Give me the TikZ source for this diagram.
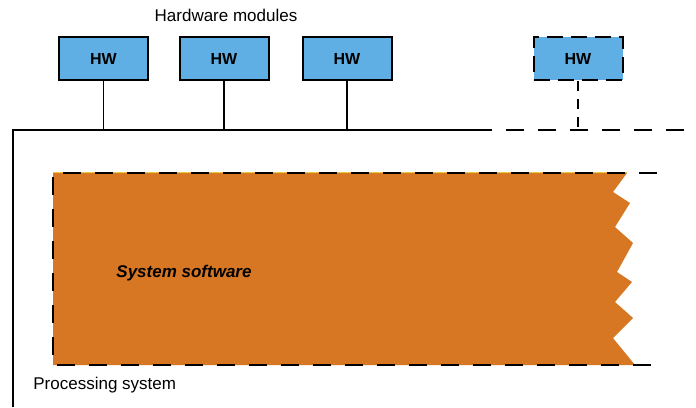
\documentclass[tikz,border=0pt]{standalone}
\usepackage{fontspec}
\setmainfont{Liberation Sans}
\definecolor{hwblue}{RGB}{95,175,228}
\definecolor{sworange}{RGB}{215,118,35}
\definecolor{swedge}{RGB}{240,200,60}
\begin{document}
\begin{tikzpicture}
	[
	x = {(0.5pt, 0pt)},
	y = {(0pt, -0.5pt)},
	hwbox/.style = {draw = black, fill = hwblue, line width = 1pt, minimum width = 44.5pt, minimum height = 21.5pt, inner sep = 0pt, font = \bfseries\fontsize{8}{9}\selectfont},
	optbox/.style = {hwbox, dash pattern = on 8pt off 4pt},
	link/.style = {color = black, line width = 0.8pt},
	optlink/.style = {link, dash pattern = on 5pt off 4pt},
	bus/.style = {color = black, line width = 0.8pt},
	optbus/.style = {bus, line width = 1pt, dash pattern = on 9pt off 7pt, dash phase = 9pt},
	swborder/.style = {color = black, line width = 1pt, dash pattern = on 9pt off 7pt},
	label/.style = {inner sep = 0pt, font = \fontsize{8.5}{10}\selectfont}]
	
	\useasboundingbox (0,0) rectangle (696,407);
	
	%% Hardware modules
	
	\node[label] (hwtitle) at (226,15) {Hardware modules};
	\node[hwbox] (hw1) at (103.5,58.5) {HW};
	\node[hwbox] (hw2) at (224,58.5) {HW};
	\node[hwbox] (hw3) at (347,58.5) {HW};
	\node[optbox] (hw4) at (578,58.5) {HW};
	
	%% Processing system outline
	
	\coordinate (corner) at (13,130);
	\coordinate (busend) at (492,130);
	\coordinate (busfree) at (696,130);
	\coordinate (leftfree) at (13,407);
	\draw[bus] (leftfree) -- (corner) -- (busend);
	\draw[optbus] (busend) -- (busfree);
	
	\foreach \m in {1,2,3} {
		\draw[link] (hw\m.south) -- (hw\m.south |- corner);
	}
	\draw[optlink] (hw4.south) -- (hw4.south |- corner);
	
	%% System software
	
	\fill[sworange] (53,173) -- (627,173) -- (613,192) -- (630,203) -- (615,227) -- (633,243) -- (617,272) -- (632,282) -- (615,302) -- (633,318) -- (613,338) -- (635,365) -- (53,365) -- cycle {};
	\draw[swedge, line width = 0.4pt] (53,172) -- (627,172);
	\draw[swborder] (657,173) -- (53,173) -- (53,365) -- (657,365);
	
	\node[label, font = \bfseries\itshape\fontsize{8.5}{10}\selectfont] (swtitle) at (184,273) {System software};
	\node[label, anchor = west] (pstitle) at (33,385) {Processing system};
\end{tikzpicture}
\end{document}
